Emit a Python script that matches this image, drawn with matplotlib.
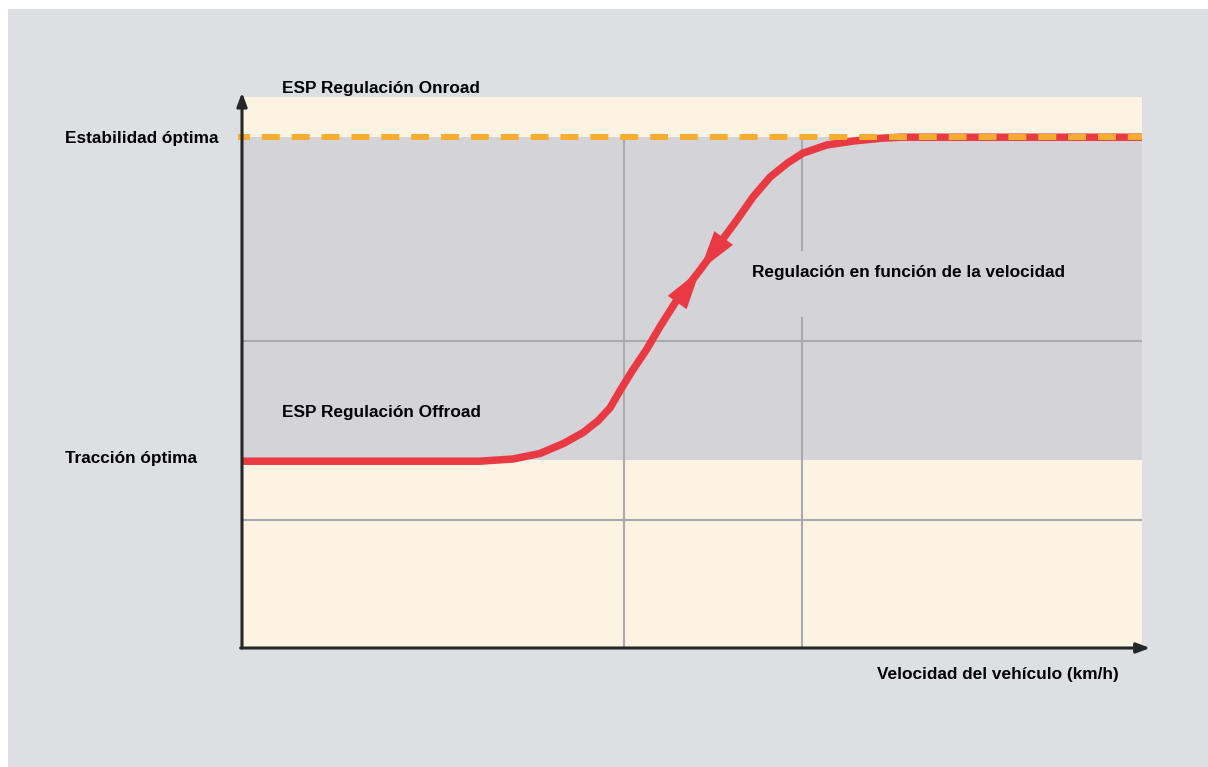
import matplotlib
matplotlib.use("Agg")
import matplotlib.pyplot as plt
from matplotlib.patches import Rectangle

plt.rcParams['font.family'] = ['Liberation Sans', 'DejaVu Sans']

# ---- data (axis units: 0-100 in both directions) ----
traccion_y = 34.1
estabilidad_y = 92.7
hgrid_y = [23.2, 55.7]
vgrid_x = [42.4, 62.2]
vgrid_gap = (59.9, 72.2)          # gap in the second vertical line near the label

curve_x = [0.0, 13.0, 26.4, 30.1, 33.1, 35.7, 37.9, 39.6, 40.9, 42.0, 43.4, 45.0, 46.4,
           48.3, 50.9, 53.1, 55.0, 56.8, 58.7, 60.6, 62.3, 65.0, 67.9, 70.9, 73.1, 100.0]
curve_y = [33.9, 33.9, 33.9, 34.3, 35.3, 37.1, 39.1, 41.3, 43.6, 46.7, 50.4, 54.3, 58.2,
           63.1, 68.6, 73.5, 77.7, 81.9, 85.5, 88.0, 89.8, 91.3, 92.0, 92.5, 92.7, 92.7]
arrow_tip_idx = 14                # both arrow heads meet here
arrow_up_from_idx = 12
arrow_down_from_idx = 16

y_labels = ["Estabilidad óptima", "Tracción óptima"]
x_label = "Velocidad del vehículo (km/h)"
zone_top = "ESP Regulación Onroad"
zone_bottom = "ESP Regulación Offroad"
curve_label = "Regulación en función de la velocidad"

# ---- colours ----
outer_bg = "#dedfe3"
beige = "#fcf3e2"
band = "#d4d3d8"
grid_c = "#a9a9ae"
red = "#e93a44"
orange = "#f7ad30"
axis_c = "#262626"

W, H = 1208, 767
fig = plt.figure(figsize=(W / 100, H / 100), dpi=100, facecolor="white")
fig.patches.append(Rectangle((8 / W, 0), 1 - 8 / W, 1 - 9 / H, transform=fig.transFigure,
                             facecolor=outer_bg, edgecolor="none", zorder=-10))

L, R, T, B = 242, 1142, 97, 648
ax = fig.add_axes([L / W, 1 - B / H, (R - L) / W, (B - T) / H])
ax.set_xlim(0, 100)
ax.set_ylim(0, 100)
ax.set_facecolor(beige)
for s in ax.spines.values():
    s.set_visible(False)
ax.set_xticks([])
ax.set_yticks([])

# gray band between optimum traction and optimum stability
ax.axhspan(traccion_y, estabilidad_y, color=band, zorder=0, lw=0)

# grid
for gy in hgrid_y:
    ax.plot([0, 100], [gy, gy], color=grid_c, lw=1.5, zorder=1, solid_capstyle="butt")
ax.plot([vgrid_x[0], vgrid_x[0]], [0, estabilidad_y], color=grid_c, lw=1.5, zorder=1)
ax.plot([vgrid_x[1], vgrid_x[1]], [0, vgrid_gap[0]], color=grid_c, lw=1.5, zorder=1)
ax.plot([vgrid_x[1], vgrid_x[1]], [vgrid_gap[1], estabilidad_y], color=grid_c, lw=1.5, zorder=1)

# red curve
ax.plot(curve_x, curve_y, color=red, lw=5.4, zorder=3, solid_capstyle="butt",
        solid_joinstyle="round", clip_on=False)

# orange dashed line on top
ax.plot([-0.45, 100], [estabilidad_y, estabilidad_y], color=orange, lw=4.3,
        linestyle=(1.0, (3.0, 2.0)), zorder=4, clip_on=False, dash_capstyle="butt")

# arrow heads
tip = (curve_x[arrow_tip_idx], curve_y[arrow_tip_idx])
for idx in (arrow_up_from_idx, arrow_down_from_idx):
    ax.annotate("", xy=tip, xytext=(curve_x[idx], curve_y[idx]),
                arrowprops=dict(arrowstyle="-|>,head_length=1.1,head_width=0.32",
                                mutation_scale=26, color=red, lw=0.01,
                                shrinkA=0, shrinkB=0), zorder=5)

# axes with arrows
ax.annotate("", xy=(0, 100.8), xytext=(0, 0),
            arrowprops=dict(arrowstyle="-|>,head_length=0.8,head_width=0.3",
                            mutation_scale=10, color=axis_c, lw=2.2,
                            shrinkA=0, shrinkB=0), annotation_clip=False, zorder=6)
ax.annotate("", xy=(100.9, 0), xytext=(-0.15, 0),
            arrowprops=dict(arrowstyle="-|>,head_length=0.8,head_width=0.3",
                            mutation_scale=10, color=axis_c, lw=2.2,
                            shrinkA=0, shrinkB=0), annotation_clip=False, zorder=6)

fs = 12.4
def px(x, y):
    return x / W, 1 - y / H

fig.text(*px(65, 138), y_labels[0], fontsize=fs, fontweight="bold", va="center", ha="left")
fig.text(*px(65, 459), y_labels[1], fontsize=fs, fontweight="bold", va="center", ha="left")
fig.text(*px(877, 675), x_label, fontsize=fs, fontweight="bold", va="center", ha="left")
fig.text(*px(282, 89), zone_top, fontsize=fs, fontweight="bold", va="center", ha="left")
fig.text(*px(282, 412), zone_bottom, fontsize=fs, fontweight="bold", va="center", ha="left")
fig.text(*px(752, 273), curve_label, fontsize=fs, fontweight="bold", va="center", ha="left")

fig.savefig("out.png", dpi=100, facecolor="white")
